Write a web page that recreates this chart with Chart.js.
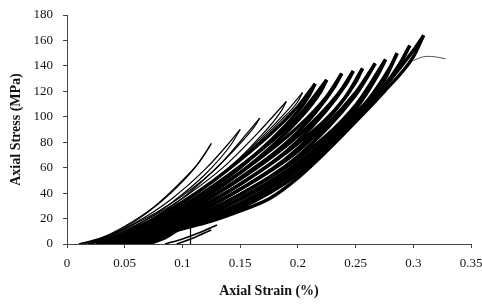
<!DOCTYPE html>
<html>
<head>
<meta charset="utf-8">
<script src="https://cdn.jsdelivr.net/npm/chart.js@4.4.1/dist/chart.umd.min.js"></script>
<style>
html,body{margin:0;padding:0;background:#fff}
#wrap{width:482px;height:306px}
</style>
</head>
<body>
<div id="wrap"><canvas id="stressChart"></canvas></div>
<script>

/* ============================= */
/* DATA */
/* ============================= */

const xTickLabels = ["0","0.05","0.1","0.15","0.2","0.25","0.3","0.35"]
const yTickLabels = ["0","20","40","60","80","100","120","140","160","180"]

// loading branch of every cycle, [strain %, stress MPa]
const loadingCurves = [
[[0.01,0],[0.03,5],[0.05,14],[0.075,29],[0.1,50],[0.115,65],[0.125,79]],
[[0.012,0],[0.035,6],[0.06,17],[0.09,35],[0.12,59],[0.14,79],[0.15,90]],
[[0.015,0],[0.04,8],[0.07,21],[0.1,38],[0.13,60],[0.155,86],[0.167,99]],
[[0.018,0],[0.045,9],[0.075,22],[0.105,39],[0.135,60],[0.165,87],[0.19,112]],
[[0.02,0],[0.05,10],[0.08,22],[0.11,39],[0.14,60],[0.17,85],[0.19,104],[0.204,119]],
[[0.025,0],[0.05,8],[0.1,33],[0.15,66],[0.2,108],[0.215,126]],
[[0.03,0],[0.05,6],[0.1,30],[0.15,61],[0.2,100],[0.225,129]],
[[0.035,0],[0.05,5],[0.1,27],[0.15,56],[0.2,92],[0.225,116],[0.238,134]],
[[0.04,0],[0.06,6],[0.1,24],[0.15,51],[0.2,85],[0.235,118],[0.248,136]],
[[0.045,0],[0.06,5],[0.1,22],[0.15,47],[0.2,79],[0.24,114],[0.256,138]],
[[0.05,0],[0.07,6],[0.1,19],[0.15,43],[0.2,73],[0.25,119],[0.267,142]],
[[0.055,0],[0.07,4],[0.1,17],[0.15,39],[0.2,67],[0.25,109],[0.276,145]],
[[0.06,0],[0.08,6],[0.1,15],[0.15,35],[0.2,62],[0.25,103],[0.275,129],[0.286,150]],
[[0.065,0],[0.08,5],[0.1,14],[0.15,31],[0.2,58],[0.25,100],[0.28,129],[0.297,156]],
[[0.07,0],[0.085,5],[0.1,13],[0.15,28],[0.2,55],[0.25,98],[0.3,152],[0.309,164]]
]

// unloading branch of every cycle (listed by increasing strain)
const unloadingCurves = [
[[0.018,0],[0.03,4],[0.05,13],[0.07,25],[0.09,40],[0.11,59],[0.121,73],[0.125,79]],
[[0.022,0],[0.04,6],[0.065,17],[0.09,32],[0.12,55],[0.142,78],[0.15,90]],
[[0.025,0],[0.045,7],[0.07,18],[0.1,36],[0.125,56],[0.15,79],[0.163,93],[0.167,99]],
[[0.028,0],[0.045,6],[0.075,19],[0.105,35],[0.135,55],[0.165,82],[0.186,105],[0.19,112]],
[[0.03,0],[0.045,5],[0.07,16],[0.1,32],[0.13,51],[0.16,75],[0.185,97],[0.2,112],[0.204,119]],
[[0.035,0],[0.05,6],[0.1,29],[0.15,60],[0.2,104],[0.21,117],[0.215,126]],
[[0.04,0],[0.05,4],[0.1,26],[0.15,56],[0.2,97],[0.22,120],[0.225,129]],
[[0.045,0],[0.06,6],[0.1,24],[0.15,52],[0.2,88],[0.232,124],[0.238,134]],
[[0.05,0],[0.06,5],[0.1,21],[0.15,47],[0.2,81],[0.242,126],[0.248,136]],
[[0.055,0],[0.07,7],[0.1,19],[0.15,43],[0.2,75],[0.25,127],[0.256,138]],
[[0.06,0],[0.07,5],[0.1,17],[0.15,39],[0.2,69],[0.25,117],[0.26,131],[0.267,142]],
[[0.065,0],[0.075,5],[0.1,15],[0.15,36],[0.2,64],[0.25,106],[0.27,134],[0.276,145]],
[[0.07,0],[0.08,6],[0.1,14],[0.15,32],[0.2,60],[0.25,101],[0.28,139],[0.286,150]],
[[0.072,0],[0.08,5],[0.1,13],[0.15,29],[0.2,55],[0.25,98],[0.29,144],[0.297,156]],
[[0.05,0],[0.07,5],[0.1,12],[0.125,18],[0.15,26],[0.176,36],[0.2,52],[0.225,73],[0.25,96],[0.275,120],[0.3,147],[0.309,164]]
]

// small reloading traces near the strain axis
const toeCurves = [
[[0.085,0],[0.1,4],[0.115,9],[0.13,15]],
[[0.095,0],[0.11,5],[0.125,11]]
]

const spike = [[0.107,0],[0.107,22]]

// post peak trace
const failureTail = [[0.3,144],[0.306,146.5],[0.312,147.5],[0.32,147],[0.328,145.5]]

const thinCycles = 5


/* ============================= */
/* DATASETS */
/* ============================= */

const toPts = arr => arr.map(p => ({x:p[0], y:p[1]}))

const datasets = []

function addCurve(c, width){
datasets.push({
data:toPts(c),
borderColor:"#000",
borderWidth:width,
cubicInterpolationMode:"monotone"
})
}

loadingCurves.forEach((c,i)=> addCurve(c, i<thinCycles ? 1.2 : 3.4))
unloadingCurves.forEach((c,i)=> addCurve(c, i<thinCycles ? 1.2 : 3.4))
toeCurves.forEach(c=> addCurve(c, 1.6))

datasets.push({
data:toPts(spike),
borderColor:"#000",
borderWidth:1.2,
tension:0
})

datasets.push({
data:toPts(failureTail),
borderColor:"#555",
borderWidth:1,
cubicInterpolationMode:"monotone"
})


/* ============================= */
/* CHART */
/* ============================= */

const serif = "'Liberation Serif','Times New Roman',serif"

const stressChart = new Chart(
document.getElementById("stressChart"),
{
type:"scatter",

data:{ datasets:datasets },

options:{
animation:false,
responsive:true,
maintainAspectRatio:false,
showLine:true,

layout:{ padding:{ left:4, right:11, top:15, bottom:2 } },

elements:{
point:{ radius:0, hoverRadius:0 },
line:{ fill:false }
},

plugins:{
legend:{ display:false },
tooltip:{ enabled:false }
},

scales:{
x:{
type:"linear",
min:0,
max:0.35,
afterFit:s=>{ s.height = 60; s.paddingRight = 0; s.paddingLeft = 0 },
ticks:{
stepSize:0.05,
padding:8,
color:"#111",
font:{ family:serif, size:13 },
callback:(v,i)=>xTickLabels[i]
},
grid:{ drawOnChartArea:false, tickLength:4, color:"#444" },
border:{ color:"#444", width:1 },
title:{
display:true,
text:"Axial Strain (%)",
color:"#111",
font:{ family:serif, size:14, weight:"bold" },
padding:{ top:8 }
}
},

y:{
min:0,
max:180,
afterFit:s=>{ s.width = 63; s.paddingTop = 0; s.paddingBottom = 0 },
ticks:{
stepSize:20,
padding:10,
color:"#111",
font:{ family:serif, size:13 },
callback:(v,i)=>yTickLabels[i]
},
grid:{ drawOnChartArea:false, tickLength:4, color:"#444" },
border:{ color:"#444", width:1 },
title:{
display:true,
text:"Axial Stress (MPa)",
color:"#111",
font:{ family:serif, size:14, weight:"bold" },
padding:{ bottom:2 }
}
}
}
}
});

</script>
</body>
</html>
